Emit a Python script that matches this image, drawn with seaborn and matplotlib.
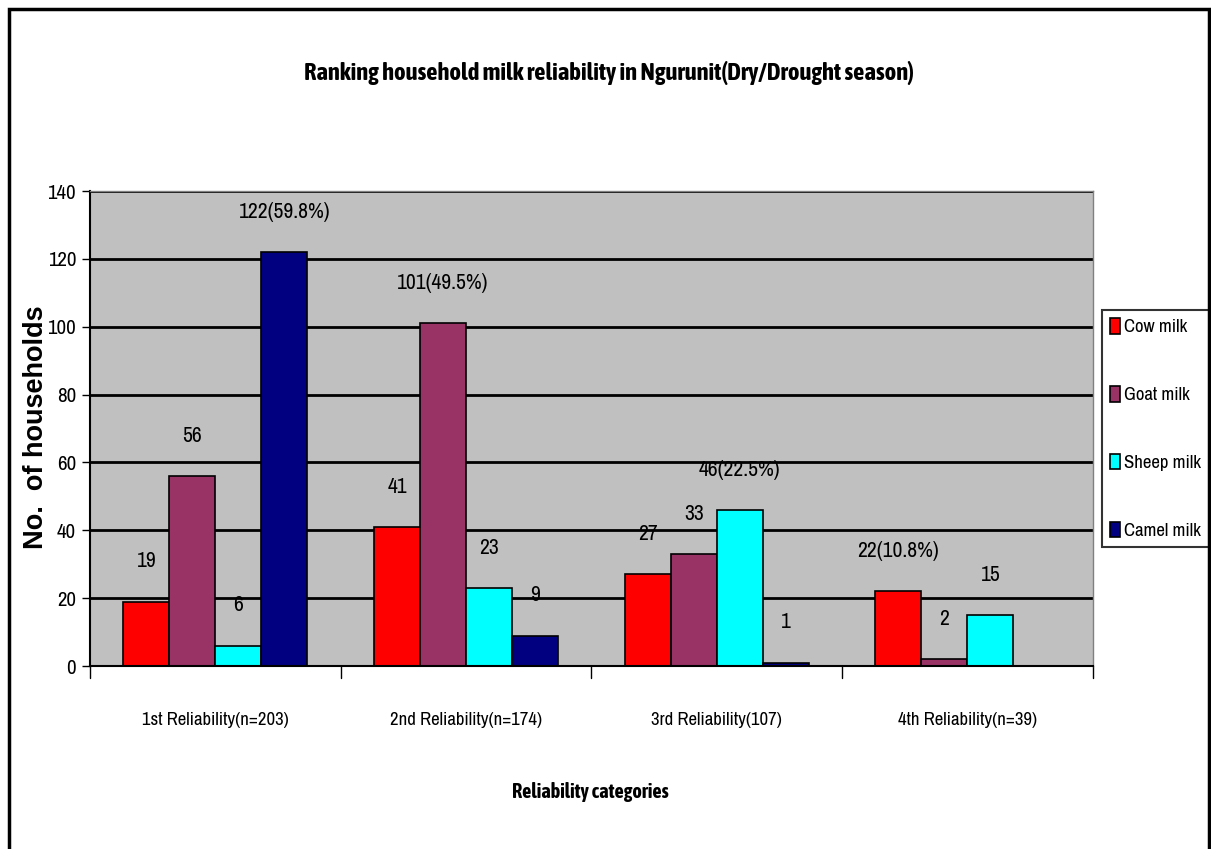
import pandas as pd
import seaborn as sns
import matplotlib.pyplot as plt
from matplotlib import font_manager
from matplotlib.patches import Rectangle

categories = ['1st Reliability(n=203)', '2nd Reliability(n=174)',
              '3rd Reliability(107)', '4th Reliability(n=39)']
milk_types = ['Cow milk', 'Goat milk', 'Sheep milk', 'Camel milk']
cow = [19, 41, 27, 22]
goat = [56, 101, 33, 2]
sheep = [6, 23, 46, 15]
camel = [122, 9, 1, 0]
labels = [['19', '41', '27', '22(10.8%)'],
          ['56', '101(49.5%)', '33', '2'],
          ['6', '23', '46(22.5%)', '15'],
          ['122(59.8%)', '9', '1', '']]
colors = ['#ff0000', '#993366', '#00ffff', '#000080']

rows = []
for m, vals in zip(milk_types, [cow, goat, sheep, camel]):
    for c, v in zip(categories, vals):
        rows.append({'category': c, 'milk': m, 'households': v})
df = pd.DataFrame(rows)


# the original uses Arial Narrow; pick narrow faces for regular and bold text
def weight_of(f):
    w = f.weight
    if isinstance(w, str):
        w = font_manager.weight_dict.get(w, 400)
    return w


narrow = [f for f in font_manager.fontManager.ttflist
          if ('Narrow' in f.name or 'Condensed' in f.name) and f.style == 'normal']
regular = {f.name for f in narrow if 350 <= weight_of(f) < 600}
bold = {f.name for f in narrow if weight_of(f) >= 600}
base = sorted(regular)[0] if regular else 'Liberation Sans'
bold_base = sorted(bold)[0] if bold else 'Liberation Sans'

sns.set_style('white')
plt.rcParams['font.family'] = [base, 'DejaVu Sans']
for key in ['text.color', 'axes.labelcolor', 'xtick.color', 'ytick.color']:
    plt.rcParams[key] = 'black'

fig = plt.figure(figsize=(12.11, 8.49), dpi=100)
ax = fig.add_axes([0.0743, 0.2155, 0.828, 0.5595])
ax.set_facecolor('#c0c0c0')

sns.barplot(data=df, x='category', y='households', hue='milk', order=categories,
            hue_order=milk_types, palette=colors, saturation=1, width=0.733,
            edgecolor='black', linewidth=1.2, ax=ax, legend=True)

for container, labs in zip(ax.containers, labels):
    for bar, lab in zip(container, labs):
        if lab:
            ax.annotate(lab, (bar.get_x() + bar.get_width() / 2, bar.get_height()),
                        xytext=(0, 29), textcoords='offset points',
                        ha='center', va='center', fontsize=15.5)

ax.set_ylim(0, 140)
ax.set_xlim(-0.5, 3.5)
ax.set_yticks(range(0, 141, 20))
ax.yaxis.grid(True, color='black', linewidth=2)
ax.set_axisbelow(True)
ax.tick_params(axis='y', labelsize=15, length=6, width=1, direction='out', left=True, pad=4)
ax.set_xticks(range(4))
ax.set_xticklabels(categories, fontsize=13.5)
ax.tick_params(axis='x', length=0, pad=33)
for x in [-0.5, 0.5, 1.5, 2.5, 3.5]:
    ax.plot([x, x], [0, -0.025], transform=ax.get_xaxis_transform(),
            color='black', linewidth=1, clip_on=False)

for s in ['left', 'bottom']:
    ax.spines[s].set_color('black')
    ax.spines[s].set_linewidth(1.5)
for s in ['top', 'right']:
    ax.spines[s].set_color('#808080')
    ax.spines[s].set_linewidth(1)

ax.set_xlabel('')
ax.set_ylabel('')
fig.text(590 / 1211, 1 - 792 / 849, 'Reliability categories', fontsize=14.6,
         fontweight='bold', family=[bold_base, 'DejaVu Sans'], ha='center', va='center')
fig.text(36 / 1211, 1 - 427 / 849, 'No.  of households', fontsize=19.5,
         fontweight='bold', family=['Liberation Sans', 'DejaVu Sans'],
         rotation=90, ha='center', va='center')
fig.text(609 / 1211, 1 - 73 / 849,
         'Ranking household milk reliability in Ngurunit(Dry/Drought season)',
         fontsize=17.7, fontweight='bold', family=[bold_base, 'DejaVu Sans'],
         ha='center', va='center')

leg = ax.legend(loc='center left', bbox_to_anchor=(1.009, 0.5), fontsize=13.5,
                frameon=True, fancybox=False, edgecolor='black', handlelength=0.5,
                handleheight=0.9, handletextpad=0.25, labelspacing=2.7,
                borderpad=0.45, borderaxespad=0)
leg.get_frame().set_linewidth(1.5)
for t in leg.get_texts():
    t.set_color('black')

fig.patches.append(Rectangle((9 / 1211, -0.1), 1200 / 1211, 1.1 - 9 / 849,
                             transform=fig.transFigure, fill=False,
                             edgecolor='black', linewidth=2.5))

fig.savefig('out.png', dpi=100)
